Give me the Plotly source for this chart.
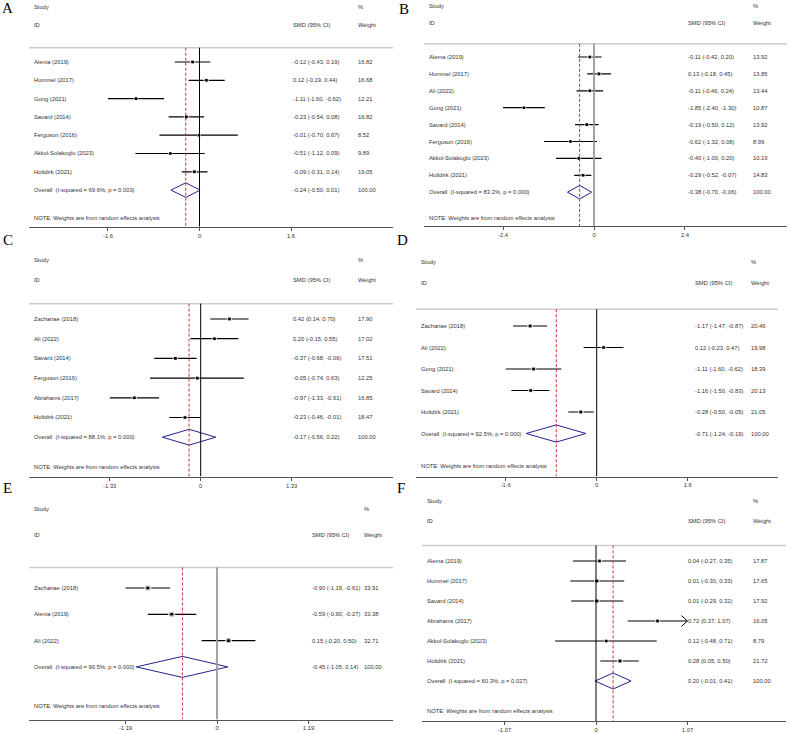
import plotly.graph_objects as go

W, H = 789, 734

# ---------------- data ----------------
a_study = ["Alema (2019)", "Hummel (2017)", "Gong (2021)", "Savard (2014)",
           "Ferguson (2016)", "Akkol-Solakoglu (2023)", "Holtdirk (2021)"]
a_smd = [-0.12, 0.12, -1.11, -0.23, -0.01, -0.51, -0.09]
a_lo = [-0.43, -0.19, -1.60, -0.54, -0.70, -1.12, -0.31]
a_hi = [0.19, 0.44, -0.62, 0.08, 0.67, 0.09, 0.14]
a_weight = [16.82, 16.68, 12.21, 16.82, 8.52, 9.89, 19.05]
a_overall = [-0.24, -0.50, 0.01]
a_het = "I-squared = 69.6%, p = 0.003"
a_tick = 1.6

b_study = ["Alema (2019)", "Hummel (2017)", "Ali (2022)", "Gong (2021)", "Savard (2014)",
           "Ferguson (2016)", "Akkol-Solakoglu (2023)", "Holtdirk (2021)"]
b_smd = [-0.11, 0.13, -0.11, -1.85, -0.19, -0.62, -0.40, -0.29]
b_lo = [-0.42, -0.18, -0.46, -2.40, -0.50, -1.32, -1.00, -0.52]
b_hi = [0.20, 0.45, 0.24, -1.30, 0.12, 0.08, 0.20, -0.07]
b_weight = [13.92, 13.85, 13.44, 10.87, 13.92, 8.99, 10.19, 14.83]
b_overall = [-0.38, -0.70, -0.06]
b_het = "I-squared = 83.2%, p = 0.000"
b_tick = 2.4

c_study = ["Zachariae (2018)", "Ali (2022)", "Savard (2014)", "Ferguson (2016)",
           "Abrahams (2017)", "Holtdirk (2021)"]
c_smd = [0.42, 0.20, -0.37, -0.05, -0.97, -0.23]
c_lo = [0.14, -0.15, -0.68, -0.74, -1.33, -0.46]
c_hi = [0.70, 0.55, -0.06, 0.63, -0.61, -0.01]
c_weight = [17.90, 17.02, 17.51, 12.25, 16.85, 18.47]
c_overall = [-0.17, -0.56, 0.22]
c_het = "I-squared = 88.1%, p = 0.000"
c_tick = 1.33

d_study = ["Zachariae (2018)", "Ali (2022)", "Gong (2021)", "Savard (2014)", "Holtdirk (2021)"]
d_smd = [-1.17, 0.12, -1.11, -1.16, -0.28]
d_lo = [-1.47, -0.23, -1.60, -1.50, -0.50]
d_hi = [-0.87, 0.47, -0.62, -0.83, -0.05]
d_weight = [20.46, 19.98, 18.39, 20.13, 21.05]
d_overall = [-0.71, -1.24, -0.19]
d_het = "I-squared = 92.5%, p = 0.000"
d_tick = 1.6

e_study = ["Zachariae (2018)", "Alema (2019)", "Ali (2022)"]
e_smd = [-0.90, -0.59, 0.15]
e_lo = [-1.19, -0.90, -0.20]
e_hi = [-0.61, -0.27, 0.50]
e_weight = [33.91, 33.38, 32.71]
e_overall = [-0.45, -1.05, 0.14]
e_het = "I-squared = 90.5%, p = 0.000"
e_tick = 1.19

f_study = ["Alema (2019)", "Hummel (2017)", "Savard (2014)", "Abrahams (2017)",
           "Akkol-Solakoglu (2023)", "Holtdirk (2021)"]
f_smd = [0.04, 0.01, 0.01, 0.72, 0.12, 0.28]
f_lo = [-0.27, -0.30, -0.29, 0.37, -0.48, 0.05]
f_hi = [0.35, 0.33, 0.32, 1.07, 0.71, 0.50]
f_weight = [17.87, 17.65, 17.92, 16.05, 8.79, 21.72]
f_arrow = [False, False, False, True, False, False]
f_overall = [0.20, -0.01, 0.41]
f_het = "I-squared = 60.3%, p = 0.027"
f_tick = 1.07

panels = [
    dict(letter="A", study=a_study, smd=a_smd, lo=a_lo, hi=a_hi, w=a_weight, ov=a_overall, het=a_het, tick=a_tick),
    dict(letter="B", study=b_study, smd=b_smd, lo=b_lo, hi=b_hi, w=b_weight, ov=b_overall, het=b_het, tick=b_tick),
    dict(letter="C", study=c_study, smd=c_smd, lo=c_lo, hi=c_hi, w=c_weight, ov=c_overall, het=c_het, tick=c_tick),
    dict(letter="D", study=d_study, smd=d_smd, lo=d_lo, hi=d_hi, w=d_weight, ov=d_overall, het=d_het, tick=d_tick),
    dict(letter="E", study=e_study, smd=e_smd, lo=e_lo, hi=e_hi, w=e_weight, ov=e_overall, het=e_het, tick=e_tick),
    dict(letter="F", study=f_study, smd=f_smd, lo=f_lo, hi=f_hi, w=f_weight, ov=f_overall, het=f_het, tick=f_tick,
         arrow=f_arrow),
]

# ---------------- layout geometry (pixels) ----------------
# x0/x1: panel line extent, zero: pixel of 0, scale: px per unit,
# r1: pixel of first study row, sp: row spacing, smd/wt: text columns, lx/ly: panel letter
geo = {
    "A": dict(x0=29, x1=393, zero=199.5, scale=57.2, r1=62, sp=18.3, smd=291, wt=356, lx=8, ly=8, zc="black", zw=1),
    "B": dict(x0=424, x1=787, zero=594, scale=37.9, r1=57, sp=16.9, smd=686, wt=751, lx=404, ly=9, zc="#999", zw=1.8),
    "C": dict(x0=29, x1=393, zero=200.7, scale=68.4, r1=319, sp=19.7, smd=291, wt=356, lx=8, ly=240, zc="black", zw=1),
    "D": dict(x0=416, x1=778, zero=596.7, scale=56.9, r1=326, sp=21.5, smd=693, wt=749, lx=403, ly=240, zc="black", zw=1),
    "E": dict(x0=29, x1=393, zero=217, scale=76.9, r1=588, sp=26.3, smd=310, wt=362, lx=8, ly=488, zc="#999", zw=1.8),
    "F": dict(x0=422, x1=786, zero=596, scale=85.5, r1=561, sp=20, smd=686, wt=751, lx=401, ly=488, zc="black", zw=1),
}

TOP_ROW = -2.3
LINE_ROW = 0.22
FONT = "Liberation Sans, Arial, sans-serif"
FS = 5.8
TXT = "#333333"

fig = go.Figure()
shapes = []
annotations = []

for i, p in enumerate(panels, start=1):
    g = geo[p["letter"]]
    sfx = "" if i == 1 else str(i)
    xid, yid = "x" + sfx, "y" + sfx
    n = len(p["study"])
    rows = list(range(1, n + 1))
    ov_row = n + 1

    xr = [(g["x0"] - g["zero"]) / g["scale"], (g["x1"] - g["zero"]) / g["scale"]]
    ytop = g["r1"] + (TOP_ROW - 1) * g["sp"]
    ybot = g["r1"] + (n + 2) * g["sp"]
    t = p["tick"]

    fig.update_layout(**{
        "xaxis" + sfx: dict(domain=[g["x0"] / W, g["x1"] / W], range=xr, anchor=yid,
                            showgrid=False, zeroline=False, showline=True, linecolor="#555",
                            linewidth=1, ticks="outside", ticklen=3, tickcolor="#555",
                            tickvals=[-t, 0, t], ticktext=[f"-{t:g}", "0", f"{t:g}"],
                            tickfont=dict(family=FONT, size=FS, color=TXT),
                            fixedrange=True),
        "yaxis" + sfx: dict(domain=[1 - ybot / H, 1 - ytop / H], range=[n + 3, TOP_ROW],
                            anchor=xid, visible=False, showgrid=False, zeroline=False,
                            fixedrange=True),
    })

    # CI lines with grey weight boxes
    fig.add_trace(go.Scatter(
        x=p["smd"], y=rows, mode="markers", xaxis=xid, yaxis=yid,
        marker=dict(symbol="square", color="#b0b0b0", size=[1.05 * w ** 0.5 for w in p["w"]]),
        error_x=dict(type="data", symmetric=False,
                     array=[h - s for h, s in zip(p["hi"], p["smd"])],
                     arrayminus=[s - l for s, l in zip(p["smd"], p["lo"])],
                     width=0, thickness=1.2, color="black"),
        hoverinfo="skip"))
    fig.add_trace(go.Scatter(
        x=p["smd"], y=rows, mode="markers", xaxis=xid, yaxis=yid,
        marker=dict(symbol="square", color="black", size=2.6), hoverinfo="skip"))

    # arrows for truncated CIs
    for r, h, a in zip(rows, p["hi"], p.get("arrow", [False] * n)):
        if a:
            fig.add_trace(go.Scatter(
                x=[h - 6 / g["scale"], h, h - 6 / g["scale"]], y=[r - 0.27, r, r + 0.27],
                mode="lines", xaxis=xid, yaxis=yid, line=dict(color="black", width=1),
                hoverinfo="skip"))

    # pooled diamond
    est, olo, ohi = p["ov"]
    fig.add_trace(go.Scatter(
        x=[olo, est, ohi, est, olo], y=[ov_row, ov_row - 0.4, ov_row, ov_row + 0.4, ov_row],
        mode="lines", xaxis=xid, yaxis=yid, line=dict(color="#23238e", width=1),
        hoverinfo="skip"))

    # reference lines
    shapes.append(dict(type="line", xref=xid + " domain", yref=yid, x0=0, x1=1,
                       y0=LINE_ROW, y1=LINE_ROW, line=dict(color="#cccccc", width=1.5)))
    shapes.append(dict(type="line", xref=xid, yref=yid, x0=0, x1=0, y0=LINE_ROW, y1=n + 3,
                       line=dict(color=g["zc"], width=g["zw"])))
    shapes.append(dict(type="line", xref=xid, yref=yid, x0=est, x1=est, y0=LINE_ROW, y1=n + 3,
                       line=dict(color="#d03030", width=1, dash="3px,2px")))

    # text columns
    span = g["x1"] - g["x0"]
    cx_name = 3 / span
    cx_smd = (g["smd"] - g["x0"]) / span
    cx_wt = (g["wt"] - g["x0"]) / span

    def txt(x, y, s):
        annotations.append(dict(xref=xid + " domain", yref=yid, x=x, y=y, text=s,
                                showarrow=False, xanchor="left", yanchor="middle",
                                font=dict(family=FONT, size=FS, color=TXT)))

    txt(cx_name, -2, "Study")
    txt(cx_name, -1, "ID")
    txt(cx_smd, -1, "SMD (95% CI)")
    txt(cx_wt, -2, "%")
    txt(cx_wt, -1, "Weight")
    for r, name, s, l, h, w in zip(rows, p["study"], p["smd"], p["lo"], p["hi"], p["w"]):
        txt(cx_name, r, name)
        txt(cx_smd, r, f"{s:.2f} ({l:.2f}, {h:.2f})")
        txt(cx_wt, r, f"{w:.2f}")
    txt(cx_name, ov_row, f"Overall  ({p['het']})")
    txt(cx_smd, ov_row, f"{est:.2f} ({olo:.2f}, {ohi:.2f})")
    txt(cx_wt, ov_row, "100.00")
    txt(cx_name, n + 2.5, "NOTE: Weights are from random effects analysis")

    # panel letter
    annotations.append(dict(xref="paper", yref="paper", x=g["lx"] / W, y=1 - g["ly"] / H,
                            text=p["letter"], showarrow=False, xanchor="center", yanchor="middle",
                            font=dict(family="Liberation Serif, Times New Roman, serif",
                                      size=15, color="black")))

fig.update_layout(width=W, height=H, margin=dict(l=0, r=0, t=0, b=0),
                  paper_bgcolor="white", plot_bgcolor="white", showlegend=False,
                  shapes=shapes, annotations=annotations)

# page body has a default 8px margin; remove it so the figure fills the window
fig.write_html("out.html", config={"displayModeBar": False},
               post_script="document.body.style.margin='0';")
